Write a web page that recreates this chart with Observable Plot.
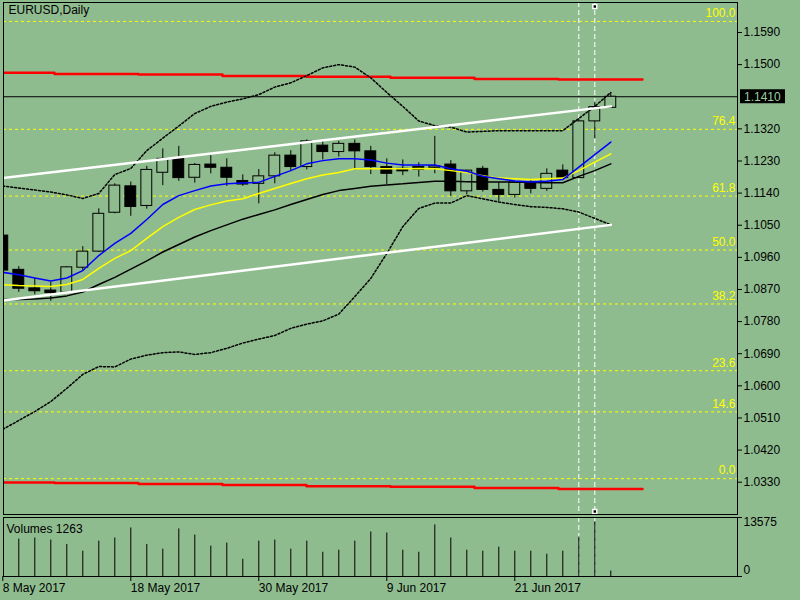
<!DOCTYPE html>
<html><head><meta charset="utf-8">
<script src="https://cdn.jsdelivr.net/npm/d3@7"></script>
<script src="https://cdn.jsdelivr.net/npm/@observablehq/plot@0.6"></script>
<style>
html,body{margin:0;padding:0;background:#8fbc8f;}
#wrap{position:relative;width:800px;height:600px;overflow:hidden;background:#8fbc8f;}
#wrap svg{position:absolute;left:0;display:block;}
</style></head><body><div id="wrap"></div>
<script>
// ---- data ----
const dates = ["2017-05-08","2017-05-09","2017-05-10","2017-05-11","2017-05-12","2017-05-15","2017-05-16","2017-05-17","2017-05-18","2017-05-19",
"2017-05-22","2017-05-23","2017-05-24","2017-05-25","2017-05-26","2017-05-29","2017-05-30","2017-05-31","2017-06-01","2017-06-02",
"2017-06-05","2017-06-06","2017-06-07","2017-06-08","2017-06-09","2017-06-12","2017-06-13","2017-06-14","2017-06-15","2017-06-16",
"2017-06-19","2017-06-20","2017-06-21","2017-06-22","2017-06-23","2017-06-26","2017-06-27","2017-06-28","2017-06-29"];
const open  = [1.1021,1.0925,1.0873,1.0867,1.0861,1.0931,1.0976,1.1085,1.1159,1.1104,1.1197,1.1236,1.1183,1.1220,1.1211,1.1174,1.1166,1.1187,1.1245,1.1213,
1.1273,1.1255,1.1278,1.1257,1.1213,1.1208,1.1213,1.1211,1.1220,1.1145,1.1208,1.1149,1.1135,1.1171,1.1152,1.1203,1.1182,1.1341,1.1379];
const high  = [1.1027,1.0934,1.0900,1.0890,1.0934,1.0990,1.1096,1.1166,1.1171,1.1215,1.1264,1.1271,1.1223,1.1245,1.1236,1.1191,1.1206,1.1253,1.1259,1.1289,
1.1287,1.1285,1.1289,1.1271,1.1236,1.1233,1.1225,1.1299,1.1231,1.1204,1.1215,1.1169,1.1171,1.1175,1.1208,1.1219,1.1348,1.1395,1.1421];
const low   = [1.0918,1.0862,1.0855,1.0837,1.0859,1.0921,1.0974,1.1082,1.1075,1.1095,1.1161,1.1173,1.1168,1.1194,1.1159,1.1159,1.1110,1.1166,1.1201,1.1205,
1.1233,1.1241,1.1205,1.1192,1.1164,1.1189,1.1185,1.1194,1.1131,1.1135,1.1143,1.1116,1.1126,1.1138,1.1145,1.1181,1.1181,1.1292,1.1379];
const close = [1.0923,1.0872,1.0865,1.0860,1.0932,1.0976,1.1082,1.1161,1.1101,1.1205,1.1236,1.1182,1.1219,1.1211,1.1183,1.1164,1.1187,1.1245,1.1213,1.1285,
1.1255,1.1278,1.1257,1.1213,1.1194,1.1201,1.1205,1.1215,1.1145,1.1203,1.1149,1.1135,1.1169,1.1152,1.1194,1.1182,1.1341,1.1381,1.1410];
const volume = [13575,8615,8848,8383,7381,5821,8150,8848,11177,7381,6287,10944,9547,6986,7684,3958,8150,8383,6287,8150,
5588,6054,8150,10245,10013,6054,5588,11875,8848,6054,5821,6753,5821,5821,5123,5821,9081,12574,1263];

const maBlue   = [1.0918,1.0911,1.0902,1.0894,1.0902,1.0923,1.0965,1.0999,1.1027,1.1066,1.1108,1.1133,1.1147,1.1160,1.1166,1.1168,1.1170,1.1187,1.1203,1.1222,
1.1231,1.1236,1.1236,1.1233,1.1224,1.1219,1.1219,1.1219,1.1208,1.1201,1.1187,1.1180,1.1174,1.1171,1.1173,1.1178,1.1213,1.1248,1.1283];
const maYellow = [1.0883,1.0881,1.0880,1.0878,1.0884,1.0898,1.0929,1.0957,1.0979,1.1013,1.1046,1.1072,1.1094,1.1107,1.1118,1.1124,1.1139,1.1153,1.1167,1.1180,
1.1191,1.1198,1.1208,1.1208,1.1208,1.1208,1.1209,1.1208,1.1203,1.1198,1.1189,1.1182,1.1180,1.1178,1.1180,1.1182,1.1203,1.1227,1.1250];
const maBlack  = [1.0842,1.0842,1.0843,1.0846,1.0852,1.0863,1.0884,1.0904,1.0927,1.0950,1.0975,1.0996,1.1017,1.1035,1.1051,1.1067,1.1080,1.1093,1.1108,1.1122,
1.1136,1.1147,1.1153,1.1159,1.1163,1.1166,1.1170,1.1173,1.1173,1.1172,1.1171,1.1171,1.1171,1.1170,1.1169,1.1169,1.1187,1.1203,1.1222];
const bbUpper  = [1.1160,1.1154,1.1149,1.1143,1.1135,1.1125,1.1139,1.1192,1.1209,1.1259,1.1294,1.1328,1.1363,1.1383,1.1395,1.1404,1.1416,1.1437,1.1449,1.1469,
1.1491,1.1500,1.1493,1.1463,1.1422,1.1383,1.1342,1.1329,1.1325,1.1311,1.1313,1.1315,1.1315,1.1315,1.1315,1.1315,1.1349,1.1383,1.1422];
const bbLower  = [1.0478,1.0503,1.0528,1.0556,1.0593,1.0632,1.0654,1.0653,1.0675,1.0686,1.0693,1.0695,1.0688,1.0693,1.0705,1.0720,1.0731,1.0741,1.0761,1.0773,
1.0782,1.0801,1.0850,1.0901,1.0971,1.1046,1.1097,1.1112,1.1112,1.1133,1.1124,1.1115,1.1108,1.1102,1.1100,1.1096,1.1087,1.1069,1.1051];

const trendUpper = [{i: 0, p: 1.1182}, {i: 38, p: 1.1383}];
const trendLower = [{i: 0, p: 1.0839}, {i: 38, p: 1.1051}];

const redEdges  = [-0.15, 3.23, 8.48, 13.73, 18.98, 24.23, 29.48, 34.73, 39.98];
const redTop    = [1.1477, 1.1474, 1.1472, 1.1468, 1.1466, 1.1463, 1.1460, 1.1458];
const redBottom = [1.0329, 1.0328, 1.0325, 1.0322, 1.0319, 1.0317, 1.0314, 1.0311];

const fibLevels = [100.0, 76.4, 61.8, 50.0, 38.2, 23.6, 14.6, 0.0];
const fibHigh = 1.1621, fibLow = 1.0340;

const priceTicks = [1.1590,1.1500,1.1320,1.1230,1.1140,1.1050,1.0960,1.0870,1.0780,1.0690,1.0600,1.0510,1.0420,1.0330];
const currentPrice = 1.1410;
const volumeMax = 13575;
const xTickDates  = ["2017-05-08","2017-05-18","2017-05-30","2017-06-09","2017-06-21"];
const xTickLabels = ["8 May 2017","18 May 2017","30 May 2017","9 Jun 2017","21 Jun 2017"];
const markerDates = ["2017-06-27","2017-06-28"];

// ---- build ----
const BG = "#8fbc8f";
const FONT = "Liberation Sans, Arial, sans-serif";
const candles = dates.map((d, i) => ({i, date: d, o: open[i], h: high[i], l: low[i], c: close[i]}));
const series = arr => arr.map((p, i) => ({i, p}));
const steps = (vals) => redEdges.map((e, k) => ({i: e, p: vals[Math.min(k, vals.length - 1)]}));
const fibPrice = lv => fibLow + (fibHigh - fibLow) * lv / 100;
const markerIdx = markerDates.map(d => dates.indexOf(d));
const xTickIdx = xTickDates.map(d => dates.indexOf(d));
const n = dates.length - 1;

const xScale = {type: "linear", domain: [0, n], range: [2.3, 2.3 + 16 * n], axis: null, label: null};
const baseStyle = {fontFamily: FONT, fontSize: "12px", color: "black"};

const main = Plot.plot({
  width: 800, height: 516, marginLeft: 3, marginRight: 63, marginTop: 2, marginBottom: 2,
  style: {...baseStyle, background: BG},
  x: xScale,
  y: {domain: [1.0330, 1.1590], range: [481.7, 32], label: null},
  marks: [
    Plot.ruleY(fibLevels, {y: fibPrice, stroke: "#ffff00", strokeDasharray: "3,3"}),
    Plot.text(fibLevels, {y: fibPrice, text: d => d.toFixed(1), frameAnchor: "right", textAnchor: "end", dx: -2, dy: -8, fill: "#ffff00", fontSize: 12}),
    Plot.ruleX(markerIdx, {x: d => d, stroke: "white", strokeDasharray: "5,3"}),
    Plot.line(steps(redTop), {x: "i", y: "p", curve: "step-after", stroke: "#ff0000", strokeWidth: 2.5, clip: true}),
    Plot.line(steps(redBottom), {x: "i", y: "p", curve: "step-after", stroke: "#ff0000", strokeWidth: 2.5, clip: true}),
    Plot.ruleY([currentPrice], {stroke: "black"}),
    Plot.ruleX(candles, {x: "i", y1: "l", y2: "h", stroke: "black", clip: true}),
    Plot.rect(candles, {x1: d => d.i - 0.34, x2: d => d.i + 0.34, y1: d => Math.min(d.o, d.c), y2: d => Math.max(d.o, d.c),
      fill: d => d.c >= d.o ? BG : "black", stroke: "black", clip: true}),
    Plot.line(series(bbUpper), {x: "i", y: "p", stroke: "black", strokeDasharray: "2,2", clip: true}),
    Plot.line(series(bbLower), {x: "i", y: "p", stroke: "black", strokeDasharray: "2,2", clip: true}),
    Plot.line(series(maBlack), {x: "i", y: "p", stroke: "black", clip: true}),
    Plot.line(series(maYellow), {x: "i", y: "p", stroke: "#ffff00", clip: true}),
    Plot.line(series(maBlue), {x: "i", y: "p", stroke: "#0000ff", clip: true}),
    Plot.line(trendUpper, {x: "i", y: "p", stroke: "white", strokeWidth: 2.5, clip: true}),
    Plot.line(trendLower, {x: "i", y: "p", stroke: "white", strokeWidth: 2.5, clip: true}),
    Plot.dot([markerIdx[1]], {x: d => d, frameAnchor: "top", dy: 4, symbol: "square", r: 2.2, fill: "black", stroke: "white"}),
    Plot.dot([markerIdx[1]], {x: d => d, frameAnchor: "bottom", dy: -3, symbol: "square", r: 2.2, fill: "black", stroke: "white"}),
    Plot.text(["EURUSD,Daily"], {frameAnchor: "top-left", textAnchor: "start", lineAnchor: "top", dx: 5, dy: 3, fontSize: 12}),
    Plot.frame({stroke: "black"}),
    Plot.axisY({anchor: "right", ticks: priceTicks, tickFormat: d => d.toFixed(4), tickSize: 4, tickPadding: 2, fontSize: 12, label: null})
  ]
});
main.style.top = "0px";

// bid label box on the price axis
{
  const yc = main.scale("y").apply(currentPrice);
  const svg = d3.select(main);
  const x0 = 800 - 63 + 3;
  svg.append("rect").attr("x", x0).attr("y", yc - 7).attr("width", 45).attr("height", 14).attr("fill", "black");
  svg.append("text").attr("x", x0 + 4).attr("y", yc).attr("dy", "0.36em").attr("text-anchor", "start").attr("fill", "#9ccc9c")
    .attr("font-family", FONT).attr("font-size", 12).text(currentPrice.toFixed(4));
}

// volume panel (transparent background, overlaps main svg's bottom margin)
const vol = Plot.plot({
  width: 800, height: 95, marginLeft: 3, marginRight: 63, marginTop: 12, marginBottom: 24,
  style: {...baseStyle, background: "transparent"},
  x: xScale,
  y: {domain: [0, volumeMax], axis: null, label: null},
  marks: [
    Plot.ruleX(markerIdx, {x: d => d, stroke: "white", strokeDasharray: "5,3"}),
    Plot.ruleX(volume.map((v, i) => ({i, v})), {x: "i", y1: 0, y2: "v", stroke: "black", clip: true}),
    Plot.text(["Volumes " + volume[n]], {frameAnchor: "top-left", textAnchor: "start", lineAnchor: "top", dx: 3, dy: 7, fontSize: 12}),
    Plot.frame({stroke: "black"}),
    Plot.axisY({anchor: "right", ticks: [0, volumeMax], tickFormat: () => "", tickSize: 4, label: null}),
    Plot.text([volumeMax], {y: d => d, text: d => String(d), frameAnchor: "right", textAnchor: "start", dx: 6, dy: 5, fontSize: 12}),
    Plot.text([0], {y: d => d, text: d => String(d), frameAnchor: "right", textAnchor: "start", dx: 6, dy: -6, fontSize: 12}),
    Plot.axisX({anchor: "bottom", ticks: xTickIdx, tickFormat: i => xTickLabels[xTickIdx.indexOf(i)], tickSize: 5, tickPadding: 2, textAnchor: "start", fontSize: 12, label: null})
  ]
});
vol.style.top = "505px";

const wrap = document.getElementById("wrap");
wrap.appendChild(main);
wrap.appendChild(vol);
</script></body></html>
